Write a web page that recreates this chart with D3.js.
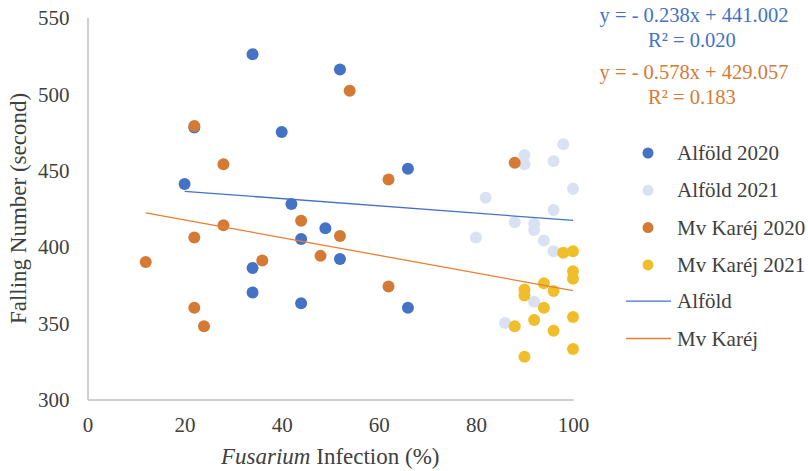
<!DOCTYPE html>
<html>
<head>
<meta charset="utf-8">
<script src="https://cdn.jsdelivr.net/npm/d3@7"></script>
<style>
  body { margin: 0; background: #fff; }
  svg, text { font-family: "Liberation Serif", "Times New Roman", serif; }
  text { fill: #404040; }
</style>
</head>
<body>
<div id="chart"></div>
<script>
// Fusarium infection (%) vs falling number (s)
var alfold2020X = [34, 52, 40, 22, 20, 66, 42, 44, 49, 52, 34, 34, 44, 66];
var alfold2020Y = [526, 516, 475, 478, 441, 451, 428, 405, 412, 392, 386, 370, 363, 360];
var alfold2021X = [98, 90, 90, 96, 100, 82, 96, 88, 92, 92, 80, 94, 96, 92, 86];
var alfold2021Y = [467, 460, 454, 456, 438, 432, 424, 416, 415, 411, 406, 404, 397, 364, 350];
var karej2020X = [22, 28, 54, 88, 62, 44, 28, 22, 52, 12, 36, 48, 22, 24, 62];
var karej2020Y = [479, 454, 502, 455, 444, 417, 414, 406, 407, 390, 391, 394, 360, 348, 374];
var karej2021X = [98, 100, 100, 100, 94, 96, 90, 90, 94, 100, 92, 88, 96, 100, 90];
var karej2021Y = [396, 397, 384, 379, 376, 371, 372, 368, 360, 354, 352, 348, 345, 333, 328];

// trendline coefficients as printed on the chart
var alfoldFit = { slope: -0.238, icept: 441.002, r2: "0.020", from: 20, to: 100 };
var karejFit = { slope: -0.578, icept: 429.057, r2: "0.183", from: 12, to: 100 };

var xTicks = [0, 20, 40, 60, 80, 100];
var yTicks = [300, 350, 400, 450, 500, 550];

var seriesNames = ["Alföld 2020", "Alföld 2021", "Mv Karéj 2020", "Mv Karéj 2021"];
var seriesColors = ["#4472C4", "#D9E1F2", "#D57A35", "#F0BE2B"];
var lineNames = ["Alföld", "Mv Karéj"];
var lineColors = ["#4472C4", "#ED7D31"];

var width = 808, height = 471;

var x = d3.scaleLinear().domain([0, 100]).range([87.5, 573]);
var y = d3.scaleLinear().domain([300, 550]).range([399.5, 17.5]);

var svg = d3.select("#chart").append("svg")
    .attr("width", width)
    .attr("height", height);

svg.append("rect").attr("width", width).attr("height", height).attr("fill", "#fff");

// axes (only lines and labels, no ticks)
var xAxis = svg.append("g")
    .attr("transform", "translate(0," + y(300) + ")")
    .call(d3.axisBottom(x).tickValues(xTicks).tickSize(0).tickPadding(22));
var yAxis = svg.append("g")
    .attr("transform", "translate(" + x(0) + ",0)")
    .call(d3.axisLeft(y).tickValues(yTicks).tickSize(0).tickPadding(18));

[xAxis, yAxis].forEach(function (g) {
    g.attr("font-family", null);
    g.select(".domain").attr("stroke", "#BFBFBF").attr("stroke-width", 1.5);
    g.selectAll("text")
        .style("font-size", "21px")
        .attr("fill", "#404040");
});
xAxis.selectAll("text").attr("dy", "0.5em");
yAxis.selectAll("text").attr("dy", "0.34em");

// points
var series = [
    [alfold2020X, alfold2020Y],
    [alfold2021X, alfold2021Y],
    [karej2020X, karej2020Y],
    [karej2021X, karej2021Y]
];
series.forEach(function (s, i) {
    var pts = s[0].map(function (v, j) { return { x: v, y: s[1][j] }; });
    svg.append("g").selectAll("circle")
        .data(pts)
        .enter()
        .append("circle")
        .attr("cx", function (d) { return x(d.x); })
        .attr("cy", function (d) { return y(d.y); })
        .attr("r", 6)
        .attr("fill", seriesColors[i]);
});

// trendlines
[alfoldFit, karejFit].forEach(function (f, i) {
    svg.append("line")
        .attr("x1", x(f.from))
        .attr("y1", y(f.slope * f.from + f.icept))
        .attr("x2", x(f.to))
        .attr("y2", y(f.slope * f.to + f.icept))
        .attr("stroke", lineColors[i])
        .attr("stroke-width", 1.3);
});

// equations
var eqs = [
    { fit: alfoldFit, color: "#4472C4", y: 22 },
    { fit: karejFit, color: "#D57A35", y: 79 }
];
eqs.forEach(function (e) {
    svg.append("text")
        .attr("x", 694).attr("y", e.y)
        .attr("text-anchor", "middle")
        .style("font-size", "20.5px")
        .style("fill", e.color)
        .text("y = - " + Math.abs(e.fit.slope).toFixed(3) + "x + " + e.fit.icept.toFixed(3));
    svg.append("text")
        .attr("x", 692).attr("y", e.y + 25)
        .attr("text-anchor", "middle")
        .style("font-size", "20.5px")
        .style("fill", e.color)
        .text("R² = " + e.fit.r2);
});

// legend
var legend = svg.append("g").attr("transform", "translate(0,153)");
seriesNames.forEach(function (n, i) {
    var g = legend.append("g").attr("transform", "translate(0," + (i * 37.3) + ")");
    g.append("circle").attr("cx", 648).attr("cy", 0).attr("r", 5.5).attr("fill", seriesColors[i]);
    g.append("text").attr("x", 677).attr("y", 7).style("font-size", "21px").text(n);
});
lineNames.forEach(function (n, i) {
    var g = legend.append("g").attr("transform", "translate(0," + ((i + 4) * 37.3 - 1) + ")");
    g.append("line").attr("x1", 626).attr("x2", 671).attr("y1", 0).attr("y2", 0)
        .attr("stroke", lineColors[i]).attr("stroke-width", 1.3);
    g.append("text").attr("x", 677).attr("y", 7).style("font-size", "21px").text(n);
});

// axis titles
var xTitle = svg.append("text")
    .attr("x", (x(0) + x(100)) / 2)
    .attr("y", 464)
    .attr("text-anchor", "middle")
    .style("font-size", "23px");
xTitle.append("tspan").style("font-style", "italic").text("Fusarium");
xTitle.append("tspan").text(" Infection (%)");

svg.append("text")
    .attr("transform", "translate(26," + ((y(300) + y(550)) / 2) + ") rotate(-90)")
    .attr("text-anchor", "middle")
    .style("font-size", "23px")
    .text("Falling Number (second)");
</script>
</body>
</html>
